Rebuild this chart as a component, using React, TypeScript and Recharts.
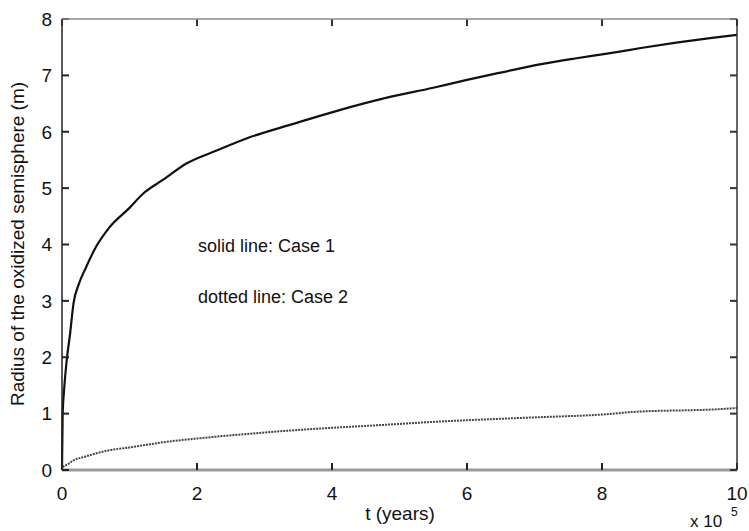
import React from 'react';
import { LineChart, Line, XAxis, YAxis } from 'recharts';

// time in units of 1e5 years, radius in metres
const case1T = [0, 0.01, 0.03, 0.07, 0.12, 0.17, 0.25, 0.35, 0.5, 0.7, 1.0, 1.2, 1.5, 1.85, 2.3, 2.8, 3.4, 4.1, 4.8, 5.5, 6.0, 6.5, 7.1, 7.6, 8.1, 8.6, 9.1, 9.6, 10];
const case1R = [0, 1.0, 1.4, 1.95, 2.42, 2.95, 3.3, 3.58, 3.95, 4.3, 4.65, 4.9, 5.15, 5.44, 5.67, 5.91, 6.13, 6.38, 6.6, 6.78, 6.92, 7.05, 7.2, 7.3, 7.39, 7.49, 7.58, 7.66, 7.72];

const case2T = [0, 0.01, 0.07, 0.17, 0.35, 0.7, 1.0, 1.55, 2.1, 2.74, 3.62, 4.76, 5.6, 6.93, 8.07, 8.46, 9.75, 10];
const case2R = [0, 0.05, 0.09, 0.17, 0.24, 0.35, 0.4, 0.5, 0.57, 0.64, 0.72, 0.8, 0.86, 0.93, 0.99, 1.03, 1.08, 1.1];

const xTicks = [0, 2, 4, 6, 8, 10];
const yTicks = [0, 1, 2, 3, 4, 5, 6, 7, 8];

const case1 = case1T.map((t, i) => ({ t, r: case1R[i] }));
const case2 = case2T.map((t, i) => ({ t, r: case2R[i] }));

const W = 749;
const H = 531;
const MARGIN = { top: 19, right: 12, bottom: 31, left: 22 };
const Y_AXIS_W = 40;
const X_AXIS_H = 30;
// plot box edges
const BOX_L = MARGIN.left + Y_AXIS_W;
const BOX_T = MARGIN.top;
const BOX_R = W - MARGIN.right;
const BOX_B = H - MARGIN.bottom - X_AXIS_H;
const PLOT_W = BOX_R - BOX_L;
const PLOT_H = BOX_B - BOX_T;
const TICK_LEN = 7;

const font = '"Liberation Sans", Arial, Helvetica, sans-serif';
const textStyle = { fontSize: 19, fontFamily: font, fill: '#111' };

// inward ticks on bottom and top edges plus the label
const XTick = (props: any) => {
  const { x, y, payload } = props;
  return (
    <g>
      <line x1={x} x2={x} y1={y} y2={y - TICK_LEN} stroke="#222" strokeWidth={2} />
      <line x1={x} x2={x} y1={y - PLOT_H} y2={y - PLOT_H + TICK_LEN} stroke="#333" strokeWidth={2} />
      <text x={x} y={y + 17} dy="0.71em" textAnchor="middle" style={textStyle}>
        {payload.value}
      </text>
    </g>
  );
};

// inward ticks on left and right edges plus the label
const YTick = (props: any) => {
  const { x, y, payload } = props;
  return (
    <g>
      <line x1={x} x2={x + TICK_LEN} y1={y} y2={y} stroke="#222" strokeWidth={2} />
      <line x1={x + PLOT_W} x2={x + PLOT_W - TICK_LEN} y1={y} y2={y} stroke="#333" strokeWidth={2} />
      <text x={x - 10} y={y} dy="0.36em" textAnchor="end" style={textStyle}>
        {payload.value}
      </text>
    </g>
  );
};

export default function App() {
  return (
    <div style={{ position: 'absolute', left: 0, top: 0, width: W, height: H, background: '#fff' }}>
      <LineChart width={W} height={H} margin={MARGIN}>
        <XAxis
          xAxisId="b"
          type="number"
          dataKey="t"
          domain={[0, 10]}
          ticks={xTicks}
          height={X_AXIS_H}
          tickSize={0}
          tickMargin={0}
          tickLine={false}
          tick={<XTick />}
          axisLine={{ stroke: '#9a9a9a', strokeWidth: 3 }}
        />
        <YAxis
          yAxisId="l"
          type="number"
          domain={[0, 8]}
          ticks={yTicks}
          width={Y_AXIS_W}
          tickSize={0}
          tickMargin={0}
          tickLine={false}
          tick={<YTick />}
          axisLine={{ stroke: '#222', strokeWidth: 1.5 }}
        />
        <Line
          xAxisId="b"
          yAxisId="l"
          data={case2}
          dataKey="r"
          type="monotone"
          stroke="#444"
          strokeWidth={2}
          strokeDasharray="2 1"
          dot={false}
          isAnimationActive={false}
        />
        <Line
          xAxisId="b"
          yAxisId="l"
          data={case1}
          dataKey="r"
          type="monotone"
          stroke="#111"
          strokeWidth={2.2}
          dot={false}
          isAnimationActive={false}
        />
      </LineChart>
      {/* box edges, annotations and axis titles */}
      <svg width={W} height={H} style={{ position: 'absolute', left: 0, top: 0, pointerEvents: 'none' }}>
        <line x1={BOX_L} x2={BOX_R} y1={BOX_T} y2={BOX_T} stroke="#8a8a8a" strokeWidth={1.5} />
        <line x1={BOX_R} x2={BOX_R} y1={BOX_T} y2={BOX_B} stroke="#333" strokeWidth={1.5} />
        <text x={198} y={252} style={{ ...textStyle, fontSize: 18 }}>solid line: Case 1</text>
        <text x={198} y={303} style={{ ...textStyle, fontSize: 18 }}>dotted line: Case 2</text>
        <text x={400} y={520} textAnchor="middle" style={textStyle}>t (years)</text>
        <text x={0} y={0} transform="translate(24,244) rotate(-90)" textAnchor="middle" style={textStyle}>
          Radius of the oxidized semisphere (m)
        </text>
        <text x={690} y={527} style={{ ...textStyle, fontSize: 17 }}>x 10</text>
        <text x={731} y={516} style={{ ...textStyle, fontSize: 12 }}>5</text>
      </svg>
    </div>
  );
}
